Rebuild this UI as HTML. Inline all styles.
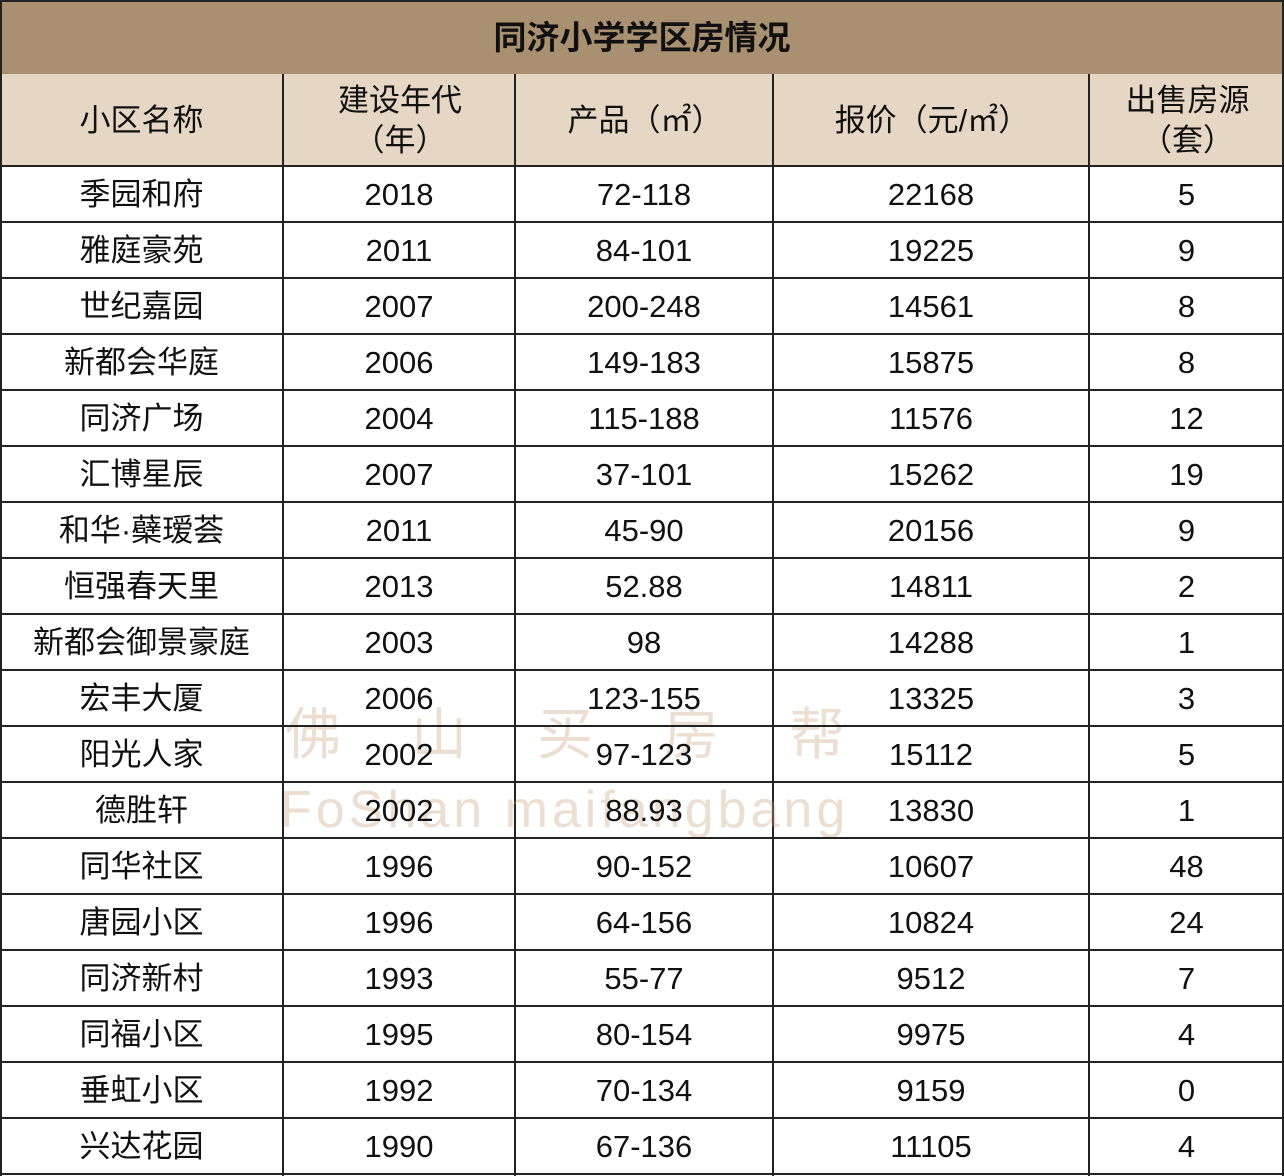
<!DOCTYPE html>
<html><head><meta charset="utf-8"><style>
body{margin:0;width:1284px;height:1176px;background:#fff;font-family:"Liberation Sans","Noto Sans CJK SC",sans-serif;color:#111;position:relative;overflow:hidden}
.t{position:absolute;left:0;top:0;width:1280px;height:72px;background:#a89070;border:2px solid #222;text-align:center;line-height:72px;font-size:33px;font-weight:bold}
.h{position:absolute;left:0;top:74px;width:1284px;height:92px;background:#e6d7c5}
.vl{position:absolute;top:74px;width:2px;height:1102px;background:#222}
.hl{position:absolute;left:0;width:1284px;height:2px;background:#222}
.c{position:absolute;text-align:center;font-size:31px;line-height:56px}
.hc{position:absolute;text-align:center;font-size:31px;line-height:40px;top:78px;height:86px;display:flex;align-items:center;justify-content:center}
.wm{position:absolute;color:rgba(200,160,120,0.35);font-size:56px;letter-spacing:70px}
</style></head><body>
<div class="t">同济小学学区房情况</div>
<div class="h"></div>
<div class="hc" style="left:0;width:283px">小区名称</div>
<div class="hc" style="left:285px;width:230px">建设年代<br>（年）</div>
<div class="hc" style="left:517px;width:256px">产品（㎡）</div>
<div class="hc" style="left:775px;width:314px">报价（元/㎡）</div>
<div class="hc" style="left:1091px;width:193px">出售房源<br>（套）</div>
<div class="vl" style="left:0"></div>
<div class="vl" style="left:282px"></div>
<div class="vl" style="left:514px"></div>
<div class="vl" style="left:772px"></div>
<div class="vl" style="left:1088px"></div>
<div class="vl" style="left:1282px"></div>
<div class="hl" style="top:165px"></div>
<div class="wm" style="left:285px;top:690px">佛山买房帮</div>
<div class="wm" style="left:280px;top:780px;font-size:52px;letter-spacing:4px">FoShan maifangbang</div>
<div id="rows"></div>
<script>
var d=[["季园和府","2018","72-118","22168","5"],["雅庭豪苑","2011","84-101","19225","9"],["世纪嘉园","2007","200-248","14561","8"],["新都会华庭","2006","149-183","15875","8"],["同济广场","2004","115-188","11576","12"],["汇博星辰","2007","37-101","15262","19"],["和华·蘗瑷荟","2011","45-90","20156","9"],["恒强春天里","2013","52.88","14811","2"],["新都会御景豪庭","2003","98","14288","1"],["宏丰大厦","2006","123-155","13325","3"],["阳光人家","2002","97-123","15112","5"],["德胜轩","2002","88.93","13830","1"],["同华社区","1996","90-152","10607","48"],["唐园小区","1996","64-156","10824","24"],["同济新村","1993","55-77","9512","7"],["同福小区","1995","80-154","9975","4"],["垂虹小区","1992","70-134","9159","0"],["兴达花园","1990","67-136","11105","4"]];
var L=[0,284,516,774,1090],W=[283,230,256,314,193],h="";
d.forEach(function(r,i){var y=167+56*i;for(var j=0;j<5;j++)h+='<div class="c" style="left:'+L[j]+'px;width:'+W[j]+'px;top:'+y+'px">'+r[j]+'</div>';h+='<div class="hl" style="top:'+(y+54)+'px"></div>';});
document.getElementById("rows").innerHTML=h;
</script>
</body></html>
